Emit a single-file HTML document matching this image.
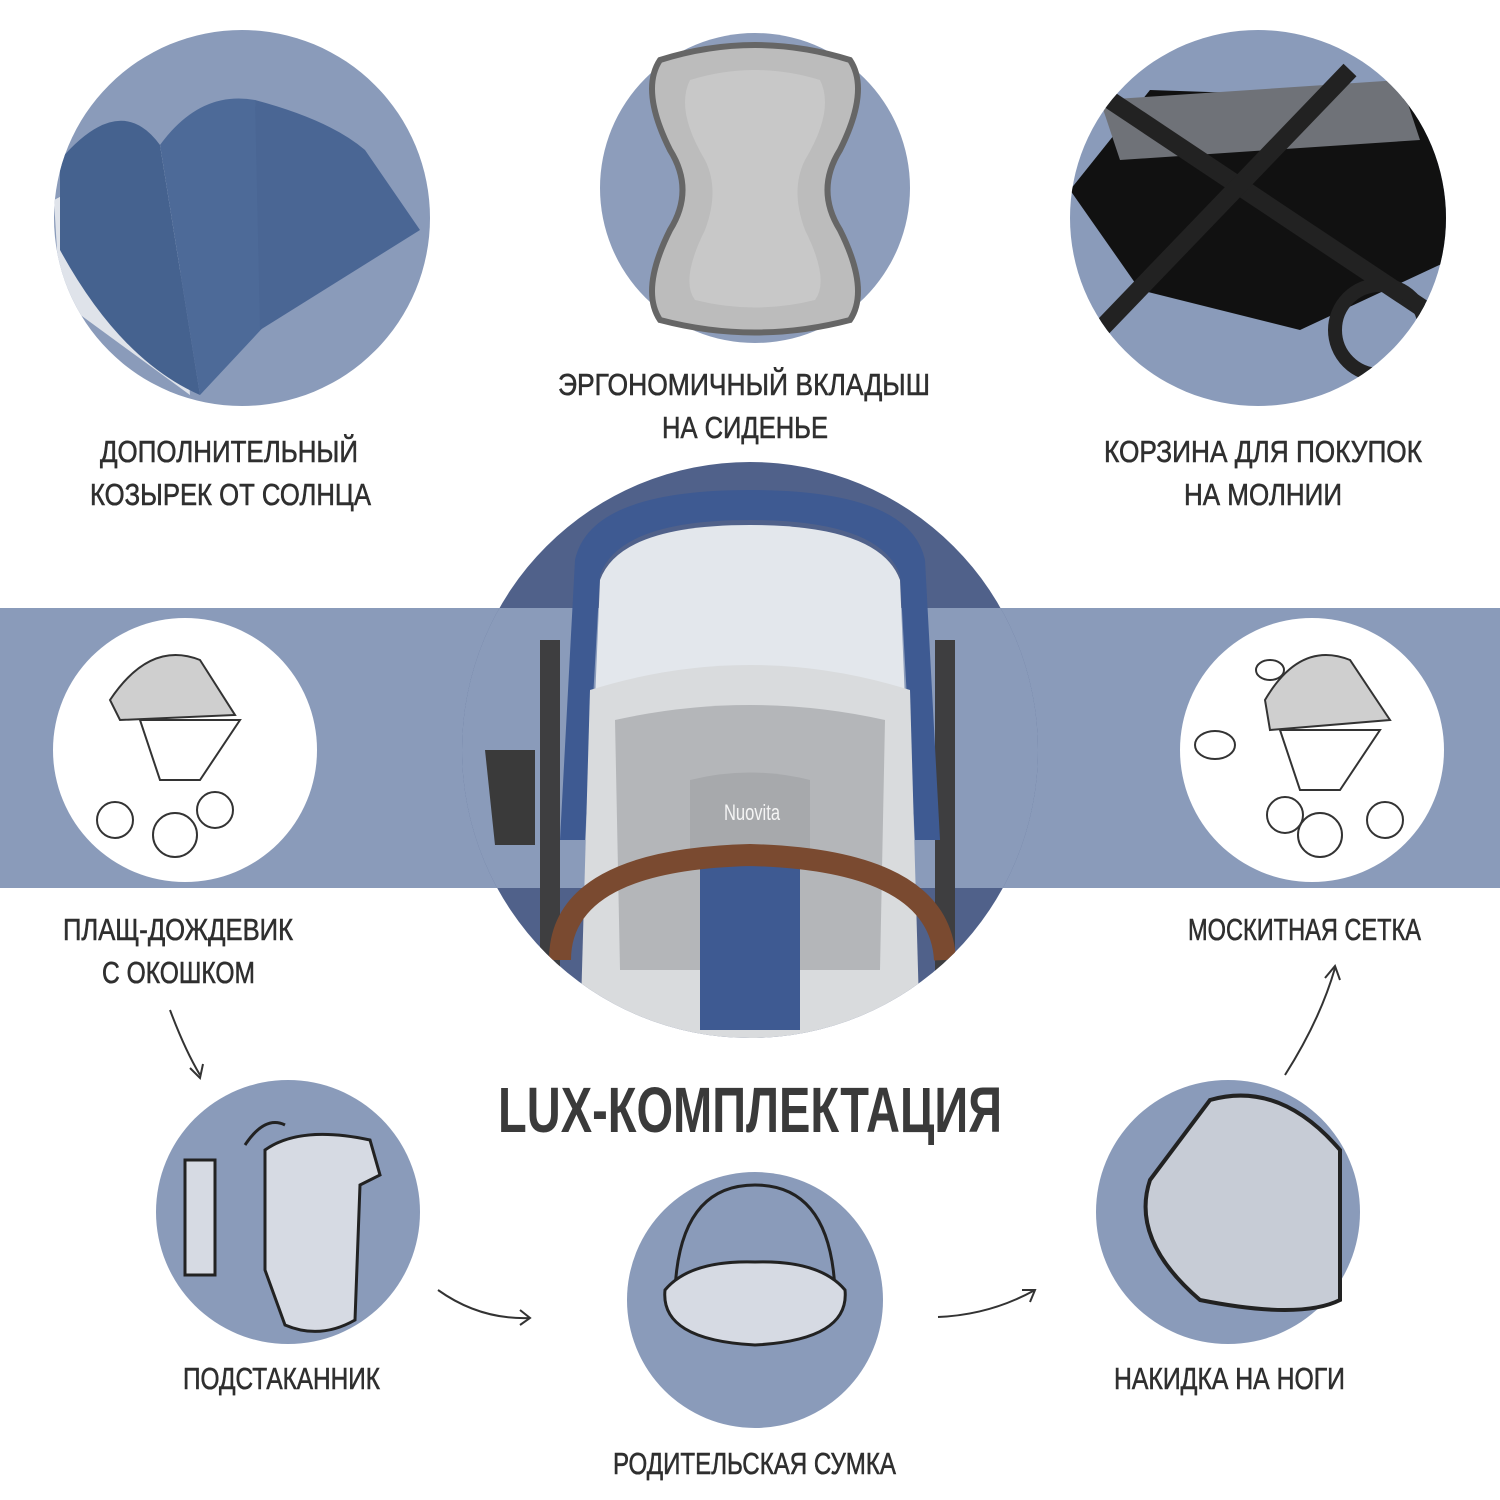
<!DOCTYPE html>
<html><head><meta charset="utf-8"><style>
html,body{margin:0;padding:0;background:#fff}
svg{display:block}
text{font-family:"Liberation Sans","DejaVu Sans",sans-serif;fill:#2f2f2f}
</style></head><body>
<svg width="1500" height="1500" viewBox="0 0 1500 1500">
<defs>
<clipPath id="cc"><circle cx="750" cy="750" r="288"/></clipPath>
<clipPath id="tl"><circle cx="242" cy="218" r="188"/></clipPath>
<clipPath id="tr"><circle cx="1258" cy="218" r="188"/></clipPath>
</defs>
<rect x="0" y="608" width="1500" height="280" fill="#8a9bba"/>
<circle cx="750" cy="750" r="288" fill="#50618a"/>
<g clip-path="url(#cc)">
<rect x="450" y="608" width="600" height="280" fill="#8a9bba"/>
<rect x="540" y="640" width="20" height="340" fill="#3e3e40"/>
<rect x="935" y="640" width="20" height="340" fill="#3e3e40"/>
<path d="M485 750 h50 v95 h-40 z" fill="#3a3a3a"/>
<path d="M575 560 Q590 490 750 490 Q910 490 925 560 L940 840 H915 L900 575 Q880 520 750 520 Q620 520 600 575 L585 840 H560 Z" fill="#3e5a92"/>
<path d="M600 580 Q620 525 750 525 Q880 525 900 580 L905 700 H595 Z" fill="#e3e7ec"/>
<path d="M590 690 Q750 640 910 690 L920 1040 H580 Z" fill="#d9dbdd"/>
<path d="M615 720 Q750 690 885 720 L880 970 H620 Z" fill="#b4b6b9"/>
<path d="M690 780 Q750 765 810 780 L810 860 H690 Z" fill="#a7a9ac"/>
<text x="724" y="820" font-size="22" style="fill:#f5f5f5" textLength="56" lengthAdjust="spacingAndGlyphs">Nuovita</text>
<path d="M700 850 h100 v180 h-100 z" fill="#3e5a92"/>
<path d="M560 960 Q560 860 750 855 Q940 860 945 960" fill="none" stroke="#7a4a30" stroke-width="22"/>
</g>
<circle cx="242" cy="218" r="188" fill="#8a9bba"/>
<g clip-path="url(#tl)">
<path d="M54 200 L170 140 L190 395 L60 300 Z" fill="#dfe3ea"/>
<path d="M60 160 Q120 90 160 145 L200 395 Q120 360 60 250 Z" fill="#45628f"/>
<path d="M160 145 Q200 90 255 100 L270 320 L200 395 Z" fill="#4d6a98"/>
<path d="M255 100 Q330 120 365 150 L420 230 L260 330 Z" fill="#4a6694"/>
</g>
<circle cx="755" cy="188" r="155" fill="#8d9dbb"/>
<path d="M660 60 Q755 30 850 60 Q870 90 840 150 Q815 190 840 230 Q870 290 850 320 Q755 345 660 320 Q640 290 670 230 Q695 190 670 150 Q640 90 660 60 Z" fill="#bcbcbc" stroke="#666" stroke-width="6"/>
<path d="M690 80 Q755 60 820 80 Q835 110 805 160 Q790 190 805 230 Q830 280 815 300 Q755 315 695 300 Q680 280 705 230 Q720 190 705 160 Q675 110 690 80 Z" fill="#c8c8c8"/>
<circle cx="1258" cy="218" r="188" fill="#8a9bba"/>
<g clip-path="url(#tr)">
<path d="M1070 190 L1150 90 L1440 100 L1450 260 L1300 330 L1140 290 Z" fill="#111"/>
<path d="M1100 100 L1400 80 L1420 140 L1120 160Z" fill="#6f7278"/>
<line x1="1110" y1="100" x2="1440" y2="320" stroke="#222" stroke-width="18"/>
<line x1="1100" y1="330" x2="1350" y2="70" stroke="#222" stroke-width="18"/>
<circle cx="1380" cy="330" r="45" fill="none" stroke="#222" stroke-width="14"/>
</g>
<circle cx="185" cy="750" r="132" fill="#fff"/>
<circle cx="1312" cy="750" r="132" fill="#fff"/>
<g fill="none" stroke="#333" stroke-width="2">
<path d="M110 700 Q150 640 200 660 L235 715 L120 720Z" fill="#cfcfcf"/>
<path d="M140 720 h100 l-40 60 h-40z"/>
<circle cx="115" cy="820" r="18"/><circle cx="175" cy="835" r="22"/><circle cx="215" cy="810" r="18"/>
<path d="M1265 700 Q1300 640 1350 660 L1390 720 L1270 730Z" fill="#cfcfcf"/>
<path d="M1280 730 h100 l-40 60 h-40z"/>
<circle cx="1285" cy="815" r="18"/><circle cx="1320" cy="835" r="22"/><circle cx="1385" cy="820" r="18"/>
<ellipse cx="1215" cy="745" rx="20" ry="14"/><ellipse cx="1270" cy="670" rx="14" ry="10"/>
</g>
<circle cx="288" cy="1212" r="132" fill="#8a9bba"/>
<g fill="none" stroke="#222" stroke-width="3">
<path d="M185 1160 h30 v115 h-30 z" fill="#d6dae3"/>
<path d="M265 1150 Q300 1125 370 1140 L380 1175 L360 1185 L355 1320 Q320 1340 285 1325 L265 1270 Z" fill="#d6dae3"/>
<path d="M245 1145 Q265 1115 285 1125"/>
</g>
<circle cx="755" cy="1300" r="128" fill="#8a9bba"/>
<g fill="none" stroke="#222" stroke-width="3">
<path d="M675 1290 Q680 1185 755 1185 Q830 1185 835 1290" />
<path d="M665 1290 Q690 1260 755 1262 Q820 1260 845 1290 Q850 1340 755 1345 Q660 1340 665 1290Z" fill="#d6dae3"/>
</g>
<circle cx="1228" cy="1212" r="132" fill="#8a9bba"/>
<g fill="none" stroke="#222" stroke-width="4">
<path d="M1210 1100 Q1280 1080 1340 1150 L1340 1300 Q1300 1320 1200 1300 Q1130 1240 1150 1180 Z" fill="#c7ccd6"/>
</g>
<g fill="none" stroke="#333" stroke-width="2">
<path d="M170 1010 Q185 1050 200 1075"/><path d="M190 1068 L200 1078 L203 1064"/>
<path d="M438 1290 Q480 1320 530 1318"/><path d="M520 1310 L530 1318 L520 1325"/>
<path d="M938 1317 Q990 1315 1035 1290"/><path d="M1022 1290 L1035 1290 L1030 1302"/>
<path d="M1285 1075 Q1320 1020 1335 968"/><path d="M1325 978 L1335 966 L1340 980"/>
</g>
<g font-size="31" style="stroke:#2f2f2f;stroke-width:0.6">
<text x="100" y="462" textLength="258" lengthAdjust="spacingAndGlyphs">ДОПОЛНИТЕЛЬНЫЙ</text>
<text x="90" y="505" textLength="281" lengthAdjust="spacingAndGlyphs">КОЗЫРЕК ОТ СОЛНЦА</text>
<text x="558" y="395" textLength="372" lengthAdjust="spacingAndGlyphs">ЭРГОНОМИЧНЫЙ ВКЛАДЫШ</text>
<text x="662" y="438" textLength="166" lengthAdjust="spacingAndGlyphs">НА СИДЕНЬЕ</text>
<text x="1104" y="462" textLength="318" lengthAdjust="spacingAndGlyphs">КОРЗИНА ДЛЯ ПОКУПОК</text>
<text x="1184" y="505" textLength="158" lengthAdjust="spacingAndGlyphs">НА МОЛНИИ</text>
<text x="63" y="940" textLength="230" lengthAdjust="spacingAndGlyphs">ПЛАЩ-ДОЖДЕВИК</text>
<text x="102" y="983" textLength="153" lengthAdjust="spacingAndGlyphs">С ОКОШКОМ</text>
<text x="1188" y="940" textLength="233" lengthAdjust="spacingAndGlyphs">МОСКИТНАЯ СЕТКА</text>
<text x="183" y="1389" textLength="197" lengthAdjust="spacingAndGlyphs">ПОДСТАКАННИК</text>
<text x="613" y="1474" textLength="283" lengthAdjust="spacingAndGlyphs">РОДИТЕЛЬСКАЯ СУМКА</text>
<text x="1114" y="1389" textLength="231" lengthAdjust="spacingAndGlyphs">НАКИДКА НА НОГИ</text>
</g>
<text x="498" y="1132" font-size="64" font-weight="bold" textLength="504" lengthAdjust="spacingAndGlyphs" style="fill:#3a3a3a">LUX-КОМПЛЕКТАЦИЯ</text>
</svg>
</body></html>
